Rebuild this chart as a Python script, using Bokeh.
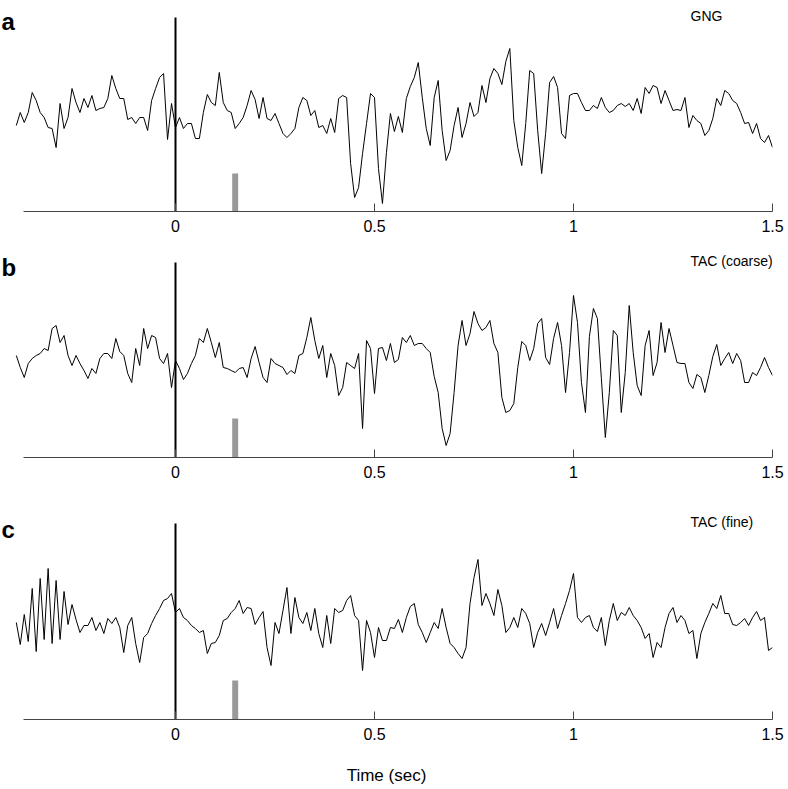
from bokeh.plotting import figure
from bokeh.layouts import column
from bokeh.models import Label, FixedTicker
from bokeh.embed import file_html
from bokeh.resources import INLINE

# ---- data (amplitudes, arbitrary units; sampled every 10 ms from -0.40 s) ----
t_start = -0.40
dt = 0.01

gng = [86, 99, 89, 99, 119, 111, 99, 94, 84, 83,
       64, 108, 83, 94, 123, 109, 99, 113, 104, 116,
       101, 103, 104, 113, 136, 123, 113, 113, 92, 94,
       88, 94, 94, 81, 111, 123, 134, 138, 72, 108,
       84, 94, 83, 88, 88, 73, 73, 99, 117, 109,
       106, 139, 109, 101, 99, 83, 88, 94, 106, 121,
       112, 93, 114, 93, 91, 98, 88, 78, 74, 78,
       83, 104, 114, 111, 96, 101, 84, 86, 78, 93,
       79, 113, 116, 114, 48, 14, 24, 58, 88, 118,
       114, 43, 8, 59, 98, 80, 95, 79, 113, 125,
       134, 149, 114, 83, 66, 114, 131, 81, 51, 61,
       86, 104, 74, 88, 109, 95, 99, 126, 109, 133,
       143, 138, 127, 150, 163, 91, 64, 46, 88, 141,
       138, 81, 38, 78, 129, 135, 124, 78, 73, 116,
       118, 118, 109, 101, 101, 106, 103, 114, 104, 99,
       101, 106, 108, 105, 108, 101, 113, 98, 124, 118,
       126, 124, 108, 121, 111, 101, 102, 101, 114, 84,
       96, 91, 88, 76, 81, 93, 113, 106, 121, 118,
       111, 108, 99, 88, 89, 78, 88, 73, 69, 76,
       64]

tac_coarse = [102, 90, 80, 94, 99, 102, 104, 109, 107, 129,
              132, 115, 122, 102, 92, 102, 94, 87, 79, 89,
              84, 99, 104, 104, 99, 119, 106, 102, 84, 75,
              109, 92, 129, 109, 122, 120, 99, 94, 104, 70,
              97, 89, 78, 84, 94, 102, 119, 115, 129, 115,
              100, 115, 90, 89, 87, 85, 89, 90, 80, 99,
              111, 95, 80, 75, 99, 94, 92, 90, 83, 87,
              84, 102, 104, 120, 140, 117, 99, 112, 80, 104,
              92, 62, 70, 95, 92, 89, 104, 29, 117, 109,
              64, 109, 110, 97, 114, 95, 98, 120, 115, 122,
              112, 114, 114, 109, 105, 81, 65, 29, 12, 24,
              65, 112, 137, 112, 124, 146, 134, 127, 130, 137,
              114, 105, 60, 45, 47, 54, 90, 116, 112, 97,
              109, 134, 139, 100, 93, 119, 135, 112, 65, 105,
              162, 135, 75, 45, 121, 149, 139, 79, 20, 65,
              127, 122, 45, 85, 152, 105, 72, 62, 112, 127,
              82, 95, 135, 105, 129, 112, 95, 94, 94, 75,
              69, 83, 80, 65, 82, 101, 113, 92, 99, 105,
              94, 104, 97, 75, 75, 85, 82, 90, 100, 90,
              82]

tac_fine = [97, 75, 105, 78, 131, 68, 141, 80, 151, 76,
            139, 80, 128, 95, 115, 100, 87, 94, 94, 102,
            89, 97, 86, 101, 96, 102, 92, 67, 94, 102,
            76, 57, 82, 86, 96, 104, 111, 119, 121, 126,
            107, 111, 102, 99, 94, 91, 87, 89, 66, 76,
            77, 84, 99, 101, 107, 111, 119, 106, 112, 111,
            95, 102, 108, 72, 54, 97, 86, 109, 132, 86,
            122, 102, 96, 107, 89, 111, 86, 72, 104, 76,
            111, 107, 109, 119, 124, 104, 99, 49, 99, 87,
            62, 92, 79, 79, 92, 91, 100, 87, 102, 113,
            116, 95, 87, 77, 87, 97, 91, 111, 92, 76,
            72, 66, 61, 72, 116, 142, 160, 114, 126, 116,
            104, 130, 114, 87, 92, 102, 92, 111, 106, 96,
            72, 87, 96, 84, 97, 111, 91, 104, 116, 129,
            146, 102, 97, 102, 104, 92, 88, 102, 74, 99,
            116, 99, 107, 104, 112, 104, 99, 92, 81, 86,
            62, 77, 72, 92, 106, 112, 97, 104, 99, 86,
            89, 61, 86, 97, 106, 116, 111, 124, 106, 106,
            95, 94, 97, 101, 94, 102, 108, 99, 102, 69,
            72]

panel_letters = ["a", "b", "c"]
panel_titles = ["GNG", "TAC (coarse)", "TAC (fine)"]
tick_values = [0, 0.5, 1, 1.5]
tick_labels = ["0", "0.5", "1", "1.5"]
onset_time = 0.0
onset_top = [194, 195, 196]
cue_time = 0.15
cue_height = [38, 39, 39]

FONT = "Liberation Sans"
X_MIN = -0.4397


def make_panel(values, letter, title, frame_h, line_top, cue_h, border_top, border_bottom, xlabel=None):
    times = [round(t_start + i * dt, 3) for i in range(len(values))]
    p = figure(frame_width=772, frame_height=frame_h,
               x_range=(X_MIN, 1.5), y_range=(0, frame_h),
               y_axis_location=None, toolbar_location=None,
               output_backend="svg",
               min_border_left=0, min_border_right=16,
               min_border_top=border_top, min_border_bottom=border_bottom)
    p.outline_line_color = None
    p.xgrid.visible = False
    p.ygrid.visible = False
    p.background_fill_color = "white"

    ax = p.xaxis[0]
    ax.ticker = FixedTicker(ticks=tick_values)
    ax.major_label_overrides = {v: s for v, s in zip(tick_values, tick_labels)}
    ax.bounds = (-0.382, 1.5)
    ax.axis_line_color = "#444444"
    ax.axis_line_width = 1
    ax.major_tick_in = 8
    ax.major_tick_out = 0
    ax.major_tick_line_color = "#444444"
    ax.minor_tick_line_color = None
    ax.major_label_text_font = FONT
    ax.major_label_text_font_size = "16px"
    ax.major_label_text_color = "black"
    ax.major_label_standoff = 8
    if xlabel:
        ax.axis_label = xlabel
        ax.axis_label_text_font = FONT
        ax.axis_label_text_font_size = "17px"
        ax.axis_label_text_font_style = "normal"
        ax.axis_label_text_color = "black"
        ax.axis_label_standoff = 23

    # cue marker (grey bar)
    p.vbar(x=[cue_time], width=0.015, bottom=0, top=[cue_h],
           fill_color="#999999", line_color=None)
    # trace
    p.line(times, values, line_color="black", line_width=1)
    # stimulus onset line
    p.segment(x0=[onset_time], y0=[0], x1=[onset_time], y1=[line_top],
              line_color="black", line_width=2)

    p.add_layout(Label(x=X_MIN, y=190, x_offset=1, text=letter, text_font=FONT,
                       text_font_size="24px", text_font_style="bold",
                       text_baseline="alphabetic", text_align="left", text_color="black"))
    p.add_layout(Label(x=1.294, y=line_top + 2, text=title, text_font=FONT,
                       text_font_size="14px", text_baseline="middle",
                       text_align="left", text_color="black"))
    return p


pa = make_panel(gng, panel_letters[0], panel_titles[0], 203, onset_top[0], cue_height[0], 8, 30)
pb = make_panel(tac_coarse, panel_letters[1], panel_titles[1], 216, onset_top[1], cue_height[1], 0, 30)
pc = make_panel(tac_fine, panel_letters[2], panel_titles[2], 232, onset_top[2], cue_height[2], 0, 66,
                xlabel="Time (sec)")

layout = column(pa, pb, pc, spacing=0)
open("out.html", "w").write(file_html(layout, INLINE))
